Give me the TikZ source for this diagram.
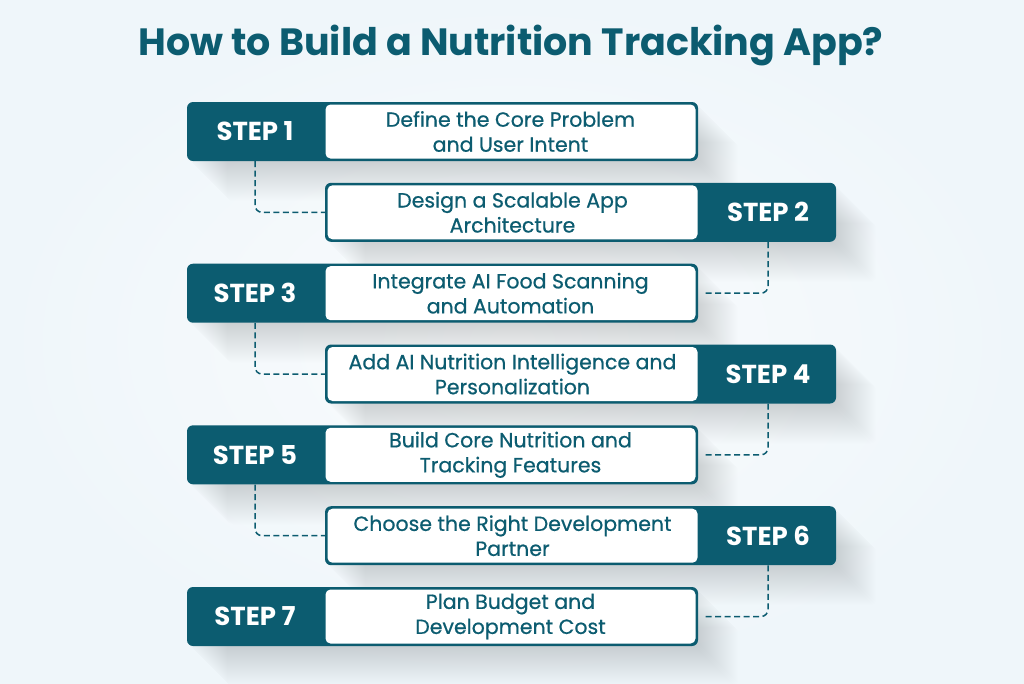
\documentclass[tikz,border=0pt]{standalone}
\usepackage{fontspec}
\setmainfont{Poppins}
\newfontfamily\cardfont[FakeBold=0.6]{Poppins}
\usetikzlibrary{positioning,backgrounds}

\definecolor{stepteal}{RGB}{12,92,112}
\definecolor{bgedge}{RGB}{239,246,250}
\definecolor{bgmid}{RGB}{250,252,253}
\definecolor{shadowtone}{RGB}{60,90,110}

\tikzset{
  stepbar/.style={fill=stepteal, rounded corners=6pt, minimum width=511pt, minimum height=59pt, inner sep=0pt},
  stepcard/.style={fill=white, rounded corners=5pt, minimum width=370pt, minimum height=54pt, inner sep=0pt,
    align=center, text=stepteal, font=\cardfont\fontsize{20.5}{25}\selectfont},
  steplabel/.style={text=white, font=\fontsize{26}{28}\selectfont\bfseries},
  link/.style={draw=stepteal, line width=1.5pt, dash pattern=on 6pt off 3.5pt, rounded corners=7pt},
  castshadow/.style={fill=shadowtone, opacity=0.0025, rounded corners=6pt}
}

\begin{document}
\begin{tikzpicture}[x=1pt,y=-1pt]
    \useasboundingbox (0,0) rectangle (1024,683);
    \node[text=stepteal, font=\fontsize{38}{42}\selectfont\bfseries](title) at (511,46){How to Build a Nutrition Tracking App?};
    % rows
    \node[stepbar](s1) at (442.5,131.5){};
    \node[stepcard](t1) at (510.5,131.5){Define the Core Problem\\and User Intent};
    \node[steplabel](l1) at (255,131.5){STEP 1};
    \node[stepbar](s2) at (580.5,212.3){};
    \node[stepcard](t2) at (512.5,212.3){Design a Scalable App\\Architecture};
    \node[steplabel](l2) at (768,212.3){STEP 2};
    \node[stepbar](s3) at (442.5,293.2){};
    \node[stepcard](t3) at (510.5,293.2){Integrate AI Food Scanning\\and Automation};
    \node[steplabel](l3) at (255,293.2){STEP 3};
    \node[stepbar](s4) at (580.5,374){};
    \node[stepcard](t4) at (512.5,374){Add AI Nutrition Intelligence and\\Personalization};
    \node[steplabel](l4) at (768,374){STEP 4};
    \node[stepbar](s5) at (442.5,454.8){};
    \node[stepcard](t5) at (510.5,454.8){Build Core Nutrition and\\Tracking Features};
    \node[steplabel](l5) at (255,454.8){STEP 5};
    \node[stepbar](s6) at (580.5,535.7){};
    \node[stepcard](t6) at (512.5,535.7){Choose the Right Development\\Partner};
    \node[steplabel](l6) at (768,535.7){STEP 6};
    \node[stepbar](s7) at (442.5,616.5){};
    \node[stepcard](t7) at (510.5,616.5){Plan Budget and\\Development Cost};
    \node[steplabel](l7) at (255,616.5){STEP 7};
    % dashed links
    \draw[link] (l1 |- s1.south) |- (s2.west);
    \draw[link] (l2 |- s2.south) |- ([xshift=5pt]s3.east);
    \draw[link] (l3 |- s3.south) |- (s4.west);
    \draw[link] (l4 |- s4.south) |- ([xshift=5pt]s5.east);
    \draw[link] (l5 |- s5.south) |- (s6.west);
    \draw[link] (l6 |- s6.south) |- ([xshift=5pt]s7.east);
    % background and shadows
    \begin{scope}[on background layer]
        \shade[inner color=bgmid, outer color=bgedge] (0,0) rectangle (1024,683);
        \foreach \r in {s1,s2,s3,s4,s5,s6,s7}
            \foreach \k in {1,...,40}
                \fill[castshadow] ([shift={(\k,\k)}]\r.south west) rectangle ([shift={(\k,\k)}]\r.north east);
    \end{scope}
\end{tikzpicture}
\end{document}
